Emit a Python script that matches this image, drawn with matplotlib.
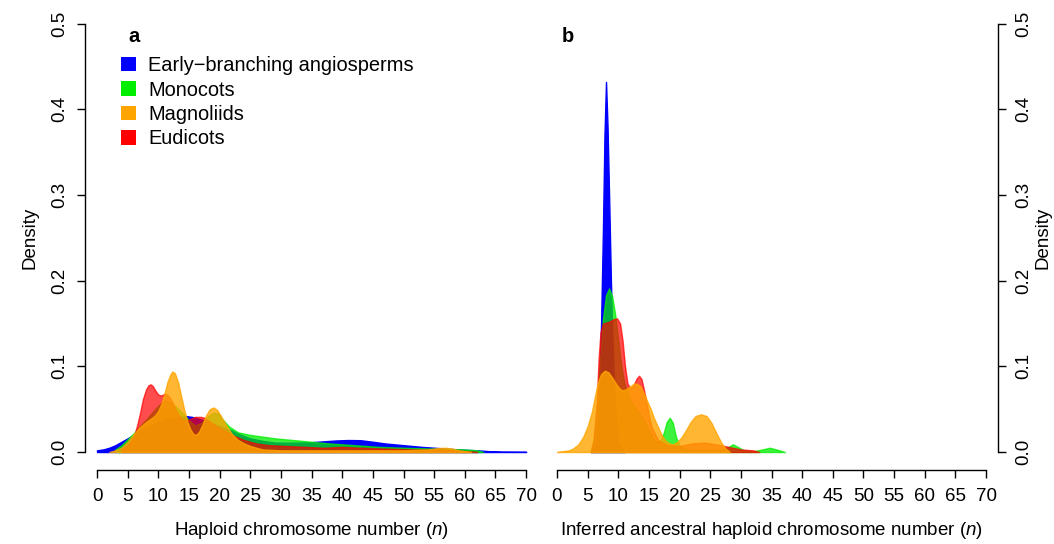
import matplotlib
matplotlib.use("Agg")
import matplotlib.pyplot as plt
from matplotlib.patches import Patch

plt.rcParams["font.family"] = ["Liberation Sans", "DejaVu Sans"]
plt.rcParams["mathtext.fontset"] = "custom"
plt.rcParams["mathtext.it"] = "Liberation Sans:italic"

groups = ["Early\u2212branching angiosperms", "Monocots", "Magnoliids", "Eudicots"]
colors = ["#0000ff", "#00ee00", "#ffa500", "#ff0000"]
alphas = [1.0, 0.75, 0.8, 0.7]
draw_order = [0, 1, 3, 2]  # orange drawn last, on top

a_early_x = [0, 1, 2, 3, 4, 5, 6, 7, 8.5, 10, 11.5, 13, 14.5, 15.5, 17, 18, 19, 20.5, 22, 23.5, 25, 27, 29, 31, 33, 35, 37, 39, 41, 43, 45, 47, 50, 53, 56, 59, 62, 64, 66, 70]
a_early_y = [0.002, 0.003, 0.005, 0.008, 0.012, 0.016, 0.020, 0.025, 0.030, 0.035, 0.038, 0.040, 0.042, 0.041, 0.038, 0.036, 0.033, 0.029, 0.025, 0.020, 0.016, 0.013, 0.011, 0.011, 0.011, 0.0115, 0.0125, 0.0135, 0.014, 0.0138, 0.012, 0.010, 0.008, 0.006, 0.0045, 0.003, 0.002, 0.001, 0.0005, 0.0003]
a_mono_x = [3, 4, 5, 6, 7, 8, 9, 10, 11, 12, 13, 14, 15, 16, 17, 18, 19, 19.8, 20.5, 21.5, 23, 25, 27, 29, 32, 35, 38, 42, 46, 50, 55, 60, 62, 63]
a_mono_y = [0.003, 0.008, 0.015, 0.022, 0.030, 0.038, 0.046, 0.054, 0.060, 0.058, 0.052, 0.045, 0.037, 0.031, 0.034, 0.041, 0.046, 0.045, 0.038, 0.030, 0.023, 0.020, 0.018, 0.016, 0.014, 0.012, 0.010, 0.008, 0.006, 0.005, 0.004, 0.003, 0.002, 0.0]
a_magn_x = [2, 3, 4, 5, 6, 7, 8, 9, 9.5, 10, 10.5, 11, 11.5, 12, 12.3, 12.7, 13.2, 13.7, 14.2, 14.7, 15.2, 15.7, 16.1, 16.6, 17.2, 17.8, 18.4, 19, 19.6, 20.2, 21, 22, 23, 24, 25, 27, 30, 35, 40, 45, 50, 54, 55.5, 56.8, 58, 59, 60, 61]
a_magn_y = [0.0, 0.002, 0.005, 0.012, 0.021, 0.029, 0.035, 0.040, 0.043, 0.048, 0.056, 0.068, 0.082, 0.091, 0.094, 0.092, 0.082, 0.066, 0.050, 0.036, 0.027, 0.021, 0.020, 0.023, 0.032, 0.043, 0.050, 0.052, 0.049, 0.042, 0.032, 0.021, 0.014, 0.010, 0.007, 0.003, 0.002, 0.002, 0.002, 0.002, 0.002, 0.003, 0.0045, 0.005, 0.004, 0.002, 0.001, 0.0]
a_eudi_x = [4, 5, 5.5, 6, 6.5, 7, 7.5, 8, 8.4, 8.75, 9.1, 9.5, 10, 10.5, 11, 11.5, 12, 12.5, 13, 13.5, 14, 15, 16, 17, 17.5, 18.5, 20, 22, 24, 26, 28, 31, 34, 37, 40, 43, 47, 52, 56, 60, 62]
a_eudi_y = [0.003, 0.008, 0.012, 0.018, 0.030, 0.045, 0.062, 0.073, 0.078, 0.079, 0.077, 0.072, 0.067, 0.066, 0.068, 0.067, 0.062, 0.055, 0.047, 0.041, 0.037, 0.038, 0.041, 0.041, 0.040, 0.035, 0.028, 0.020, 0.014, 0.010, 0.008, 0.007, 0.006, 0.005, 0.006, 0.005, 0.004, 0.003, 0.003, 0.001, 0.0]

# panel b: inferred ancestral haploid numbers
b_early_x = [5.5, 6, 6.3, 6.6, 6.9, 7.2, 7.5, 7.75, 8, 8.25, 8.5, 8.8, 9.1, 9.4, 9.7, 10, 10.5, 11]
b_early_y = [0.0, 0.004, 0.012, 0.030, 0.070, 0.150, 0.260, 0.370, 0.432, 0.380, 0.300, 0.200, 0.120, 0.065, 0.030, 0.012, 0.003, 0.0]
b_mono_x = [5.5, 6, 6.5, 7, 7.5, 8, 8.5, 9, 9.5, 10, 10.5, 11, 12, 13, 14, 15, 16, 16.8, 17.4, 17.9, 18.4, 18.9, 19.4, 20, 21, 24, 27, 28, 28.7, 29.5, 30.5, 32, 33.5, 34.7, 35.8, 37.2]
b_mono_y = [0.0, 0.015, 0.050, 0.105, 0.155, 0.183, 0.191, 0.182, 0.160, 0.130, 0.100, 0.080, 0.060, 0.050, 0.040, 0.025, 0.013, 0.012, 0.022, 0.035, 0.040, 0.034, 0.018, 0.007, 0.003, 0.002, 0.003, 0.006, 0.009, 0.006, 0.002, 0.001, 0.003, 0.005, 0.003, 0.0]
b_magn_x = [0, 1, 2, 2.6, 3.5, 4.3, 5, 5.7, 6.2, 6.7, 7.2, 7.8, 8.4, 9, 9.6, 10.1, 10.6, 11.2, 12, 12.6, 13, 13.6, 14.2, 14.8, 15.3, 15.8, 16.3, 17, 17.6, 18.3, 18.9, 19.5, 20.3, 21, 21.8, 22.6, 23.5, 24.4, 25.2, 26, 26.8, 27.5, 28.2]
b_magn_y = [0.0, 0.001, 0.002, 0.004, 0.009, 0.018, 0.030, 0.047, 0.065, 0.082, 0.091, 0.095, 0.093, 0.087, 0.080, 0.075, 0.072, 0.073, 0.077, 0.080, 0.080, 0.077, 0.068, 0.058, 0.050, 0.040, 0.032, 0.021, 0.014, 0.010, 0.009, 0.011, 0.017, 0.025, 0.035, 0.042, 0.044, 0.042, 0.034, 0.022, 0.011, 0.004, 0.0]
b_eudi_x = [5.5, 6, 6.5, 6.8, 7.1, 7.5, 8.5, 9.2, 9.8, 10.3, 10.7, 11.1, 11.5, 12, 12.5, 13, 13.4, 13.8, 14.2, 14.6, 15, 15.5, 16.5, 18, 20, 22, 24, 26, 28, 30, 32, 33]
b_eudi_y = [0.0, 0.015, 0.060, 0.110, 0.140, 0.150, 0.152, 0.155, 0.156, 0.150, 0.130, 0.100, 0.080, 0.074, 0.078, 0.086, 0.089, 0.085, 0.072, 0.058, 0.042, 0.028, 0.014, 0.008, 0.007, 0.010, 0.011, 0.009, 0.006, 0.003, 0.002, 0.0]

panel_a = [(a_early_x, a_early_y), (a_mono_x, a_mono_y), (a_magn_x, a_magn_y), (a_eudi_x, a_eudi_y)]
panel_b = [(b_early_x, b_early_y), (b_mono_x, b_mono_y), (b_magn_x, b_magn_y), (b_eudi_x, b_eudi_y)]

xticks = list(range(0, 75, 5))
yticks = [0.0, 0.1, 0.2, 0.3, 0.4, 0.5]

fig = plt.figure(figsize=(10.54, 5.44), dpi=100)
ax_a = fig.add_axes([0.0804, 0.136, 0.4304, 0.852])
ax_b = fig.add_axes([0.5168, 0.136, 0.4304, 0.852])

fs = 13.5
for ax, series in [(ax_a, panel_a), (ax_b, panel_b)]:
    for i in draw_order:
        xs, ys = series[i]
        ax.fill_between(xs, 0, ys, facecolor=colors[i], alpha=alphas[i],
                        edgecolor=colors[i], linewidth=1.0, zorder=2 + draw_order.index(i))
    ax.set_xlim(-2, 72)
    ax.set_ylim(-0.021, 0.52)
    ax.spines["top"].set_visible(False)
    ax.spines["bottom"].set_bounds(0, 70)
    ax.set_xticks(xticks)
    ax.set_yticks(yticks)
    ax.set_yticklabels([f"{v:.1f}" for v in yticks], rotation=90, va="center")
    ax.tick_params(direction="out", length=6, width=1, labelsize=fs)
    ax.tick_params(axis="x", pad=7)
    ax.tick_params(axis="y", pad=6)
    for s in ax.spines.values():
        s.set_linewidth(1)

ax_a.spines["right"].set_visible(False)
ax_a.spines["left"].set_bounds(0, 0.5)
ax_b.spines["left"].set_visible(False)
ax_b.spines["right"].set_bounds(0, 0.5)
ax_b.yaxis.tick_right()
ax_b.yaxis.set_label_position("right")

ax_a.set_xlabel("Haploid chromosome number ($\\mathit{n}$)", fontsize=fs, labelpad=11)
ax_b.set_xlabel("Inferred ancestral haploid chromosome number ($\\mathit{n}$)", fontsize=fs, labelpad=11)
ax_a.set_ylabel("Density", fontsize=fs, labelpad=9)
ax_b.set_ylabel("Density", fontsize=fs, labelpad=2, rotation=90)

ax_a.text(0.0955, 0.936, "a", transform=ax_a.transAxes, fontsize=fs + 1, fontweight="bold", va="center")
ax_b.text(0.038, 0.936, "b", transform=ax_b.transAxes, fontsize=fs + 1, fontweight="bold", va="center")

handles = [Patch(facecolor=c, edgecolor="none") for c in colors]
ax_a.legend(handles, groups, loc="upper left", bbox_to_anchor=(0.081, 0.893), frameon=False,
            fontsize=14.4, handlelength=0.75, handleheight=0.75, handletextpad=0.6,
            labelspacing=0.27, borderaxespad=0, borderpad=0)

fig.savefig("out.png", dpi=100)
